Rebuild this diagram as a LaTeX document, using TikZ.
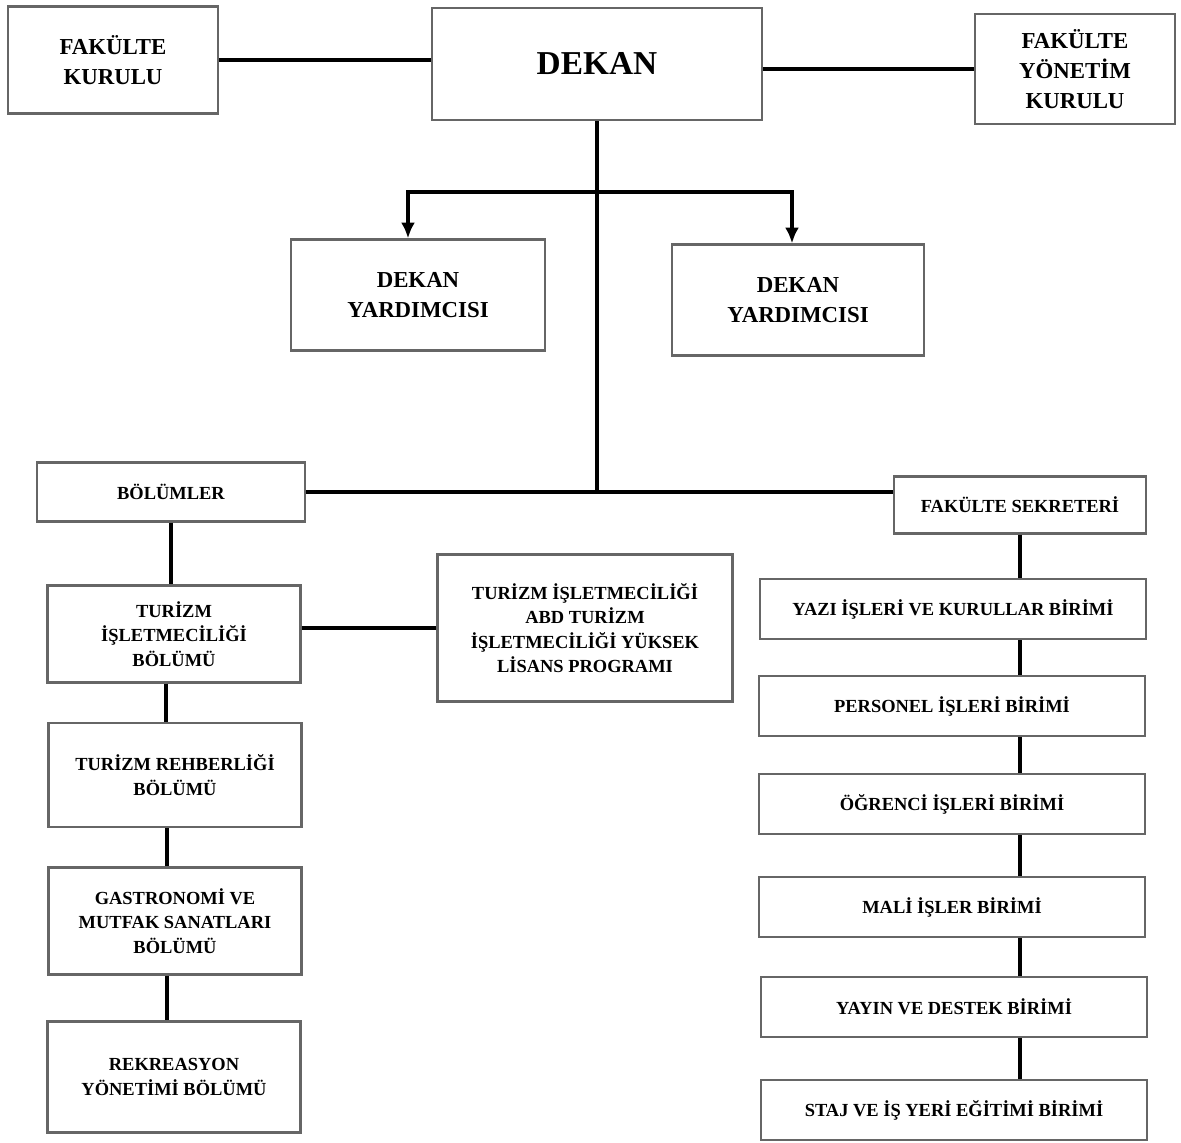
\documentclass[tikz,border=0pt]{standalone}
\usepackage{fontspec}
\setmainfont{Liberation Serif}
\usetikzlibrary{arrows.meta,positioning}

\tikzset{
  unit/.style={draw=black!60, line width=1.3pt, align=center, inner sep=2pt,
    font=\bfseries\fontsize{10.5}{14}\selectfont, minimum width=5.06cm},
  bigunit/.style={unit, font=\bfseries\fontsize{13}{17}\selectfont},
  office/.style={unit, minimum width=7.72cm, minimum height=1.2cm},
  link/.style={line width=1.9pt},
}

\begin{document}
\begin{tikzpicture}[x=0.02cm,y=-0.02cm]
\useasboundingbox (0,0) rectangle (1181,1143);
% top row
\node[bigunit, minimum width=4.2cm, minimum height=2.14cm] (kurul) at (113,60) {FAKÜLTE\\KURULU};
\node[unit, minimum width=6.6cm, minimum height=2.24cm, font=\bfseries\fontsize{19}{22}\selectfont] (dekan) at (597,64) {DEKAN};
\node[bigunit, minimum width=4.0cm, minimum height=2.2cm] (ykurul) at (1075,69) {FAKÜLTE\\YÖNETİM\\KURULU};
\draw[link] (kurul.east) -- (kurul.east -| dekan.west);
\draw[link] (dekan.east |- ykurul.west) -- (ykurul.west);

% deputies
\node[bigunit, minimum width=5.08cm, minimum height=2.22cm] (yard1) at (418,295) {DEKAN\\YARDIMCISI};
\node[bigunit, minimum width=5.04cm, minimum height=2.22cm] (yard2) at (798,300) {DEKAN\\YARDIMCISI};
\coordinate (split) at (597,192);
\coordinate (hub) at (597,493);
\draw[link] (dekan.south) -- (hub);
\draw[link,-{Latex[length=9pt,width=8pt]}] (split) -| ([xshift=-0.2cm]yard1.north);
\draw[link,-{Latex[length=9pt,width=8pt]}] (split) -| ([xshift=-0.12cm]yard2.north);

% second level
\node[unit, minimum width=5.36cm, minimum height=1.18cm] (bolum) at (171,492) {BÖLÜMLER};
\node[unit, minimum width=5.04cm, minimum height=1.14cm] (sekreter) at (1020,505) {FAKÜLTE SEKRETERİ};
\draw[link] (bolum.east) -- (bolum.east -| sekreter.west);

% departments
\node[unit, minimum height=1.94cm] (tib) at (174,634) {TURİZM\\İŞLETMECİLİĞİ\\BÖLÜMÜ};
\node[unit, minimum width=5.9cm, minimum height=2.94cm] (abd) at (585,628) {TURİZM İŞLETMECİLİĞİ\\ABD TURİZM\\İŞLETMECİLİĞİ YÜKSEK\\LİSANS PROGRAMI};
\node[unit, minimum height=2.08cm] (trb) at (175,775) {TURİZM REHBERLİĞİ\\BÖLÜMÜ};
\node[unit, minimum height=2.14cm] (gast) at (175,921) {GASTRONOMİ VE\\MUTFAK SANATLARI\\BÖLÜMÜ};
\node[unit, minimum height=2.22cm] (rek) at (174,1077) {REKREASYON\\YÖNETİMİ BÖLÜMÜ};
\draw[link] (bolum.south) -- (bolum.south |- tib.north);
\draw[link] (tib.east |- abd.west) -- (abd.west);
\foreach \a/\b in {tib/trb, trb/gast, gast/rek}
  \draw[link] ([xshift=-0.16cm]\a.south) -- ([xshift=-0.16cm]\a.south |- \b.north);

% offices
\node[office] (yazi) at (953,609) {YAZI İŞLERİ VE KURULLAR BİRİMİ};
\node[office] (personel) at (952,706) {PERSONEL İŞLERİ BİRİMİ};
\node[office] (ogrenci) at (952,804) {ÖĞRENCİ İŞLERİ BİRİMİ};
\node[office] (mali) at (952,907) {MALİ İŞLER BİRİMİ};
\node[office] (yayin) at (954,1007) {YAYIN VE DESTEK BİRİMİ};
\node[office] (staj) at (954,1110) {STAJ VE İŞ YERİ EĞİTİMİ BİRİMİ};
\foreach \a/\b in {sekreter/yazi, yazi/personel, personel/ogrenci, ogrenci/mali, mali/yayin, yayin/staj}
  \draw[link] (\a.south -| sekreter) -- (\b.north -| sekreter);
\end{tikzpicture}
\end{document}
